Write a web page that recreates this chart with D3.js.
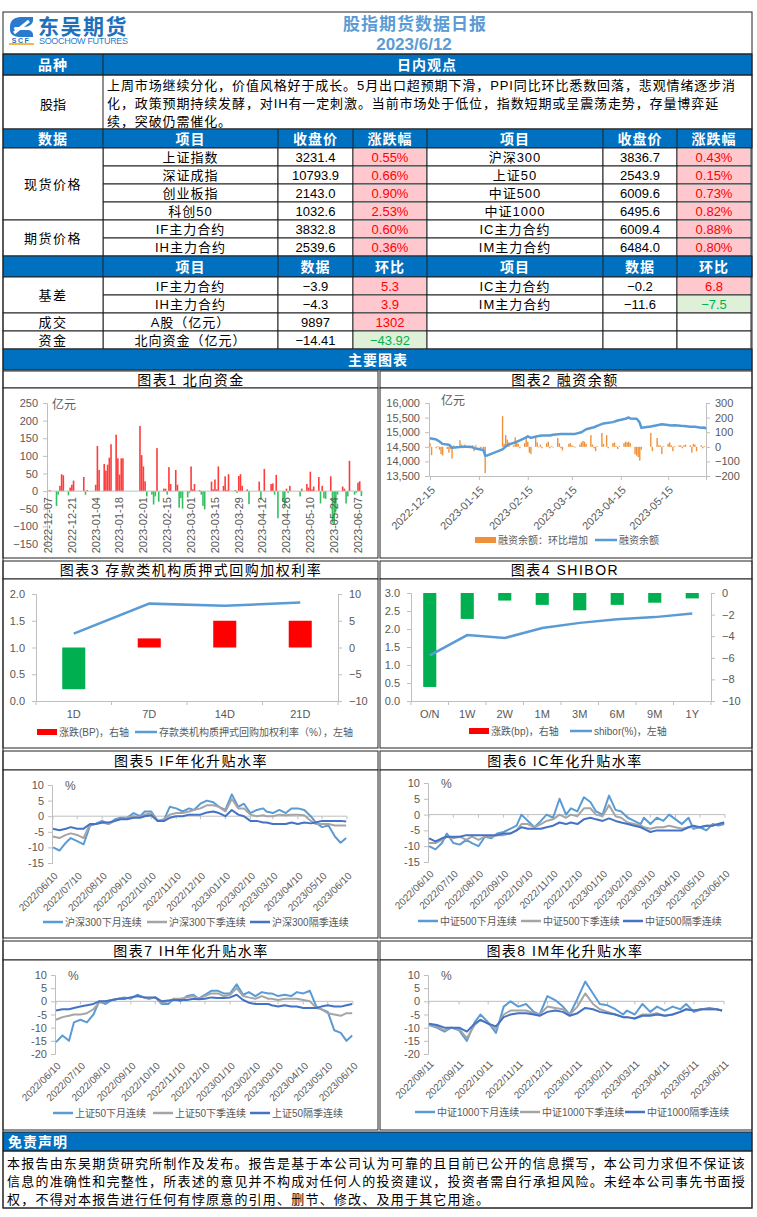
<!DOCTYPE html>
<html><head><meta charset="utf-8">
<script src="https://cdn.jsdelivr.net/npm/d3@7"></script>
<style>
body{margin:0;background:#fff;}
svg{display:block;font-family:"Liberation Sans",Arial,"Noto Sans CJK SC",sans-serif;}
</style></head><body>
<script>
// ---------------- DATA ----------------
const reportTitle = "股指期货数据日报";
const reportDate = "2023/6/12";
const viewLines = [
  "上周市场继续分化，价值风格好于成长。5月出口超预期下滑，PPI同比环比悉数回落，悲观情绪逐步消",
  "化，政策预期持续发酵，对IH有一定刺激。当前市场处于低位，指数短期或呈震荡走势，存量博弈延",
  "续，突破仍需催化。"
];
const spotNamesL = ["上证指数","深证成指","创业板指","科创50"];
const spotCloseL = [3231.4,10793.9,2143.0,1032.6];
const spotChgL = [0.55,0.66,0.90,2.53];
const spotNamesR = ["沪深300","上证50","中证500","中证1000"];
const spotCloseR = [3836.7,2543.9,6009.6,6495.6];
const spotChgR = [0.43,0.15,0.73,0.82];
const futNamesL = ["IF主力合约","IH主力合约"];
const futCloseL = [3832.8,2539.6];
const futChgL = [0.60,0.36];
const futNamesR = ["IC主力合约","IM主力合约"];
const futCloseR = [6009.4,6484.0];
const futChgR = [0.88,0.80];
const basisNamesL = ["IF主力合约","IH主力合约"];
const basisValL = [-3.9,-4.3];
const basisChgL = [5.3,3.9];
const basisNamesR = ["IC主力合约","IM主力合约"];
const basisValR = [-0.2,-11.6];
const basisChgR = [6.8,-7.5];
const turnoverVal = 9897, turnoverChg = 1302;
const northVal = -14.41, northChg = -43.92;
const disclaimer = [
  "本报告由东吴期货研究所制作及发布。报告是基于本公司认为可靠的且目前已公开的信息撰写，本公司力求但不保证该",
  "信息的准确性和完整性，所表述的意见并不构成对任何人的投资建议，投资者需自行承担风险。未经本公司事先书面授",
  "权，不得对本报告进行任何有悖原意的引用、删节、修改、及用于其它用途。"
];

// Chart 1 北向资金
const nfDates = ["2022-12-08","2022-12-12","2022-12-13","2022-12-14","2022-12-15","2022-12-16","2022-12-19","2022-12-20","2022-12-21","2022-12-22","2022-12-28","2022-12-29","2022-12-30","2023-01-04","2023-01-05","2023-01-06","2023-01-09","2023-01-10","2023-01-11","2023-01-12","2023-01-13","2023-01-16","2023-01-17","2023-01-18","2023-01-19","2023-01-20","2023-01-30","2023-01-31","2023-02-01","2023-02-02","2023-02-03","2023-02-06","2023-02-07","2023-02-08","2023-02-09","2023-02-10","2023-02-13","2023-02-14","2023-02-15","2023-02-16","2023-02-17","2023-02-20","2023-02-21","2023-02-22","2023-02-23","2023-02-24","2023-02-27","2023-02-28","2023-03-01","2023-03-02","2023-03-03","2023-03-06","2023-03-07","2023-03-08","2023-03-09","2023-03-13","2023-03-14","2023-03-15","2023-03-16","2023-03-17","2023-03-20","2023-03-21","2023-03-22","2023-03-23","2023-03-27","2023-03-28","2023-03-29","2023-03-30","2023-03-31","2023-04-03","2023-04-04","2023-04-10","2023-04-11","2023-04-13","2023-04-17","2023-04-18","2023-04-19","2023-04-20","2023-04-21","2023-04-24","2023-04-25","2023-04-26","2023-04-27","2023-04-28","2023-05-04","2023-05-05","2023-05-08","2023-05-09","2023-05-10","2023-05-11","2023-05-12","2023-05-15","2023-05-16","2023-05-17","2023-05-18","2023-05-19","2023-05-22","2023-05-23","2023-05-24","2023-05-25","2023-05-26","2023-05-29","2023-05-30","2023-05-31","2023-06-01","2023-06-02","2023-06-05","2023-06-06","2023-06-07","2023-06-08","2023-06-09"];
const nfValues = [3,-42,-10,15,48,45,-12,10,18,30,40,-10,3,18,128,60,77,58,75,95,133,160,93,47,93,93,185,102,70,28,-15,-10,-38,-15,122,-30,7,7,-10,68,20,60,18,-47,-20,-50,-18,-5,70,5,20,3,-10,-42,-52,27,5,33,5,70,15,42,3,48,3,-5,43,48,15,5,-37,27,-25,63,20,22,-10,46,-77,-30,-48,7,-5,15,-15,7,20,10,55,5,13,40,-35,15,-20,-22,42,-90,-95,-55,-10,13,7,-35,-15,86,-10,-5,24,28,-14];
const nfTickDates = ["2022-12-07","2022-12-21","2023-01-04","2023-01-18","2023-02-01","2023-02-15","2023-03-01","2023-03-15","2023-03-29","2023-04-12","2023-04-26","2023-05-10","2023-05-24","2023-06-07"];
const nfYTicks = [-150,-100,-50,0,50,100,150,200,250];

// Chart 2 融资余额
const mbDates = ["2022-12-15","2022-12-19","2022-12-21","2022-12-23","2022-12-27","2022-12-29","2023-01-03","2023-01-05","2023-01-09","2023-01-11","2023-01-13","2023-01-17","2023-01-18","2023-01-19","2023-01-20","2023-01-30","2023-02-01","2023-02-03","2023-02-07","2023-02-10","2023-02-14","2023-02-15","2023-02-17","2023-02-21","2023-02-24","2023-03-01","2023-03-03","2023-03-08","2023-03-13","2023-03-17","2023-03-21","2023-03-24","2023-03-29","2023-03-31","2023-04-04","2023-04-10","2023-04-13","2023-04-18","2023-04-20","2023-04-21","2023-04-25","2023-04-26","2023-04-27","2023-04-28","2023-05-04","2023-05-08","2023-05-11","2023-05-15","2023-05-17","2023-05-19","2023-05-23","2023-05-25","2023-05-29","2023-06-01","2023-06-05","2023-06-07","2023-06-08"];
const mbBalance = [14790,14750,14680,14600,14570,14470,14490,14506,14500,14483,14440,14402,14368,14195,14200,14410,14510,14580,14650,14720,14820,14860,14805,14862,14885,14885,14910,14935,14942,14942,15000,15100,15170,15215,15300,15345,15400,15460,15506,15470,15460,15400,15322,15150,15195,15240,15270,15250,15230,15240,15218,15210,15184,15184,15150,15161,15115];
const mcDates = ["2022-12-15","2022-12-16","2022-12-19","2022-12-20","2022-12-21","2022-12-22","2022-12-23","2022-12-26","2022-12-27","2022-12-28","2022-12-29","2022-12-30","2023-01-03","2023-01-04","2023-01-05","2023-01-06","2023-01-09","2023-01-11","2023-01-12","2023-01-13","2023-01-16","2023-01-17","2023-01-18","2023-01-19","2023-01-30","2023-01-31","2023-02-01","2023-02-02","2023-02-03","2023-02-06","2023-02-07","2023-02-08","2023-02-09","2023-02-10","2023-02-13","2023-02-14","2023-02-15","2023-02-16","2023-02-17","2023-02-20","2023-02-21","2023-02-22","2023-02-23","2023-02-24","2023-02-27","2023-02-28","2023-03-01","2023-03-02","2023-03-03","2023-03-06","2023-03-07","2023-03-08","2023-03-09","2023-03-13","2023-03-14","2023-03-15","2023-03-16","2023-03-17","2023-03-20","2023-03-21","2023-03-22","2023-03-23","2023-03-24","2023-03-27","2023-03-28","2023-03-29","2023-03-30","2023-03-31","2023-04-03","2023-04-04","2023-04-06","2023-04-07","2023-04-10","2023-04-11","2023-04-12","2023-04-13","2023-04-14","2023-04-17","2023-04-18","2023-04-19","2023-04-20","2023-04-21","2023-04-24","2023-04-25","2023-04-26","2023-04-27","2023-04-28","2023-05-04","2023-05-05","2023-05-08","2023-05-09","2023-05-10","2023-05-11","2023-05-12","2023-05-15","2023-05-16","2023-05-17","2023-05-18","2023-05-19","2023-05-22","2023-05-23","2023-05-24","2023-05-25","2023-05-26","2023-05-29","2023-05-30","2023-05-31","2023-06-01","2023-06-02","2023-06-05","2023-06-06","2023-06-07"];
const mcChange = [25,-57,-10,5,-20,-50,-60,-15,-40,-15,-80,10,45,15,-10,15,-10,10,-30,10,-10,-5,-20,-180,210,20,80,50,30,10,65,35,20,-10,25,60,35,-40,-50,60,30,-5,15,-10,25,35,-10,5,-5,60,25,-10,-25,20,25,10,5,-5,15,30,40,35,20,80,15,-10,-30,5,95,20,80,-10,25,30,5,-15,5,25,35,30,35,25,-50,-60,-70,-95,-20,95,-30,60,10,10,-50,5,20,30,10,-30,5,10,10,-10,10,15,10,-40,20,15,-30,10,-10,5];
const mbTickDates = ["2022-12-15","2023-01-15","2023-02-15","2023-03-15","2023-04-15","2023-05-15"];
const mbLeftTicks = [13500,14000,14500,15000,15500,16000];
const mbRightTicks = [-200,-100,0,100,200,300];

// Chart 3 存款类机构质押式回购加权利率
const repoCats = ["1D","7D","14D","21D"];
const repoRate = [1.26,1.82,1.78,1.84];
const repoChg = [-7.8,1.7,5.0,5.0];

// Chart 4 SHIBOR
const shiborCats = ["O/N","1W","2W","1M","3M","6M","9M","1Y"];
const shiborRate = [1.27,1.83,1.75,2.03,2.17,2.27,2.33,2.43];
const shiborChg = [-8.7,-2.4,-0.7,-1.1,-1.6,-1.1,-0.9,-0.5];

// Charts 5-7 升贴水率
const bDates = ["2022-06-10","2022-06-18","2022-06-26","2022-07-02","2022-07-10","2022-07-18","2022-07-26","2022-08-02","2022-08-10","2022-08-18","2022-08-26","2022-09-02","2022-09-10","2022-09-18","2022-09-26","2022-10-02","2022-10-10","2022-10-18","2022-10-26","2022-11-02","2022-11-10","2022-11-18","2022-11-26","2022-12-02","2022-12-10","2022-12-18","2022-12-26","2023-01-02","2023-01-10","2023-01-18","2023-01-26","2023-02-02","2023-02-10","2023-02-18","2023-02-26","2023-03-02","2023-03-10","2023-03-18","2023-03-26","2023-04-02","2023-04-10","2023-04-18","2023-04-26","2023-05-02","2023-05-10","2023-05-18","2023-05-26","2023-06-02","2023-06-09"];
const bTicks = ["2022-06-10","2022-07-10","2022-08-10","2022-09-10","2022-10-10","2022-11-10","2022-12-10","2023-01-10","2023-02-10","2023-03-10","2023-04-10","2023-05-10","2023-06-10"];
const ifNext = [-10,-11,-8.5,-7,-8,-9,-3,-2.5,-1.5,-2.5,-1,-0.5,-0.5,1,0,1.5,1.5,-1.5,-1,3,2.5,1.5,2.5,2,4,5,4.5,3,2,7,3,4,1,2,2.5,1.5,1,2,1,2.5,2.5,2,0,-2,-3.5,-3,-6.5,-8.5,-7];
const ifSeason = [-6.5,-7,-6,-5.5,-6,-7,-2.5,-2.5,-2,-2.5,-1.5,-0.8,-0.5,0,-0.3,0.5,1,-1.5,-1,0.5,1,1,1.5,2,2.5,3.5,3.5,3,1.5,5.5,2.5,2.5,0.5,0,0.3,0,0,0.5,0.3,0.5,0.5,0.3,-1.5,-2.5,-2.5,-2.5,-3,-3,-3];
const ifFar = [-4,-4.5,-4,-3.5,-4,-4,-2.5,-2.5,-2,-2,-1.5,-1,-1,-0.5,-0.5,0,0.3,-1.5,-1.5,-0.5,0,0,0.5,0.5,0.5,1.2,1.5,1,0,2,0.5,0,-1.5,-1.5,-2,-2,-2.5,-2.5,-2.5,-2,-2.5,-2,-2.3,-2,-1.5,-1.5,-1.5,-1.5,-1.7];
const icNext = [-10,-11,-9,-6,-9,-9.5,-8,-9,-10,-7,-7.5,-6,-5.5,-4.5,-3.5,0,-2,-4,-2,0,-1,5,0,2,1,5.5,4,1,0,6,1.5,1,-1,-2,-3,-1,-3,-1,-2,0,-1.5,-3,-1,-4.5,-4,-5,-3,-3.5,-3];
const icSeason = [-9,-9,-8,-7,-7.5,-7,-8,-7,-8,-7,-7,-6.5,-6.5,-6,-5,-3,-3,-4,-3,-2,-1.5,0,-1,0,-0.5,2,2,0,-0.5,3,-0.5,-1,-2.5,-3,-3.5,-4,-4.5,-4,-4,-3.5,-4,-4.5,-4,-4,-4,-3.5,-3.5,-3,-2.5];
const icFar = [-7.5,-8.5,-7.5,-7,-7,-7,-6.5,-6.5,-6.5,-6.5,-6.5,-6.5,-6,-6,-5,-4,-4.5,-4.5,-4.5,-4,-3.5,-2.5,-3,-2.5,-3,-1.5,-1,-1.5,-2,-1.2,-2,-2.5,-3,-3.5,-4,-4.5,-5.5,-5,-5,-5,-5,-5,-4,-3.5,-4,-3.5,-3.5,-3,-2.5];
const ihNext = [-15.5,-13,-15,-8,-7,-8,-5,0,-1,0.5,1,1.5,1,2.5,1.5,1,1.5,-1,-1,1,0,2,2.5,1,2.5,4,4,3,3,6.5,2.5,3.5,2,3.5,3,3,2,2.5,2,3.5,3,4,-2,-3,-4,-11,-12,-15,-13];
const ihSeason = [-7,-6,-5.5,-5,-5,-4.5,-3,-0.5,0,0.5,1,1,1.5,2,1.5,1,1.5,-0.5,0,1,1,1.5,2,1,2,3,3,2,2.5,5,2,1.5,1,2,1,1,0.5,1,1,1,0.5,0,-2.5,-3,-4.5,-5,-5.5,-4.5,-4.5];
const ihFar = [-3.5,-3,-3,-2.5,-2,-1.5,-1,0,0,0.5,1,1,1.5,2,1.5,1.5,1.5,0,0.3,0.5,0.5,0.5,1,0.8,1,1.5,1.3,1.3,1.5,2.5,0.5,-0.5,-1,-1,-1,-1.5,-2,-1.5,-2,-2,-2.5,-2.5,-2.5,-2,-1.5,-2,-2,-1.5,-1];
// Chart 8
const imDates = ["2022-08-11","2022-08-19","2022-08-27","2022-09-03","2022-09-11","2022-09-19","2022-09-27","2022-10-03","2022-10-11","2022-10-19","2022-10-27","2022-11-03","2022-11-11","2022-11-19","2022-11-27","2022-12-03","2022-12-11","2022-12-19","2022-12-27","2023-01-03","2023-01-11","2023-01-19","2023-01-27","2023-02-03","2023-02-11","2023-02-19","2023-02-27","2023-03-03","2023-03-11","2023-03-19","2023-03-27","2023-04-03","2023-04-11","2023-04-19","2023-04-27","2023-05-03","2023-05-11","2023-05-19","2023-05-27","2023-06-03","2023-06-09"];
const imTicks = ["2022-08-11","2022-09-11","2022-10-11","2022-11-11","2022-12-11","2023-01-11","2023-02-11","2023-03-11","2023-04-11","2023-05-11","2023-06-11"];
const imNext = [-9,-10,-11.5,-10,-11,-15,-8,-5,-8,-12,-2,0,-2,-1,-4,-5,2,0.5,-2,-5,1,7.5,3,-1,-1.5,-3,-5,-3.5,-5,-1,-4,-2,-3.5,-2,-3,-1,-4,-3,-2.5,-3,-3.5];
const imSeason = [-9,-9.5,-11,-10,-10.5,-14,-9,-7,-8.5,-10.5,-5,-3.5,-3.5,-3.5,-4.5,-5,-2,-2.5,-3,-5,-2,3,-1,-3,-4,-5,-6,-6,-6.5,-5,-5,-4.5,-5.5,-5,-4,-3,-3.5,-3,-3,-3,-3.5];
const imFar = [-8.5,-9,-10,-10,-10,-11.5,-8.5,-7,-8.5,-9.5,-6,-5,-4.5,-4.5,-5,-5.5,-4,-3.5,-4,-5.5,-4.5,-2.5,-3,-4,-4.5,-5,-6,-6,-6.5,-5.5,-5.5,-5,-5.5,-5,-4,-3,-3.5,-3,-3,-3,-3.5];

// ---------------- DRAW ----------------
const W=757,H=1217,L=3,R=752,MID=379;
const FONT='"Liberation Sans",Arial,"Noto Sans CJK SC",sans-serif';
const GRAY="#595959",AX="#bfbfbf",BLUE="#0070c0";
const C_LB="#5b9bd5",C_GR="#a5a5a5",C_DB="#4472c4";
const parse=d3.timeParse("%Y-%m-%d");
const svg=d3.select("body").append("svg").attr("width",W).attr("height",H);
svg.append("rect").attr("width",W).attr("height",H).attr("fill","#fff");

function rect(x,y,w,h,fill,stroke){return svg.append("rect").attr("x",x).attr("y",y).attr("width",w).attr("height",h).attr("fill",fill||"none").attr("stroke",stroke||"none");}
function txt(x,y,s,o={}){return svg.append("text").attr("x",x).attr("y",y).text(s)
  .attr("font-size",o.fs||13).attr("fill",o.fill||"#000").attr("text-anchor",o.anchor||"middle")
  .attr("font-weight",o.fw||"normal").attr("dominant-baseline","central").attr("letter-spacing",o.ls||0);}
function styleAxis(g,fs){g.attr("font-family",FONT);g.select(".domain").attr("stroke",AX);
  g.selectAll(".tick line").attr("stroke",AX);g.selectAll(".tick text").attr("fill",GRAY).attr("font-size",fs);}
function justify(lines,x,ys,width,fs){
  const nodes=lines.map((s,i)=>txt(x,ys[i],s,{fs:fs,anchor:"start"}));
  const w=nodes[0].node().getComputedTextLength();
  const ls=(width-w)/[...lines[0]].length;
  nodes.forEach(t=>t.attr("letter-spacing",ls));
}
function legLine(x,y,c,label,len){svg.append("line").attr("x1",x).attr("x2",x+len).attr("y1",y).attr("y2",y).attr("stroke",c).attr("stroke-width",2.5);
  txt(x+len+2,y,label,{fs:10,anchor:"start",fill:GRAY});}
function legRect(x,y,c,label,len){rect(x,y-3,len,6,c);txt(x+len+2,y,label,{fs:10,anchor:"start",fill:GRAY});}

// ---- header / logo
svg.append("path").attr("d","M10,27 C10,19 16,17 22,17 L33,17 L33,20 C33,24 29,27 24,27 L16,27 C14,27 13,29 15,30 L27,30 C31,30 33,32 33,35 L33,37 L20,37 C14,37 10,34 10,30 Z").attr("fill","#2a7bd0");
svg.append("path").attr("d","M14,33 L29,21").attr("stroke","#fff").attr("stroke-width",3);
txt(21,40.5,"SCF",{fs:7,fw:"bold",fill:"#1f6fba",ls:1.5});
svg.append("line").attr("x1",9).attr("x2",34).attr("y1",44).attr("y2",44).attr("stroke","#f39c12").attr("stroke-width",1.5);
txt(38,26,"东吴期货",{fs:21,fw:"bold",fill:"#1f6fba",anchor:"start",ls:1.5});
txt(39,40.5,"SOOCHOW FUTURES",{fs:9,fill:"#2a7bd0",anchor:"start"}).attr("textLength",89);
txt(415,24,reportTitle,{fs:17,fw:"bold",fill:"#5b9bd5",ls:1});
txt(414,44,reportDate,{fs:17,fw:"bold",fill:"#5b9bd5"});

// ---- table
const cols=[3,103,278,353,427,603,677,751];
const cx=i=>(cols[i]+cols[i+1])/2;
function band(y0,y1,labels){rect(L,y0,R-L,y1-y0,BLUE,"#222");
  labels.forEach((s,i)=>{ if(s!==null){ if(i>0) svg.append("line").attr("x1",cols[i]).attr("x2",cols[i]).attr("y1",y0).attr("y2",y1).attr("stroke","#222");
    if(s) txt(cx(i),(y0+y1)/2,s,{fs:14,fw:"bold",fill:"#fff",ls:1}); }});}
rect(L,54,R-L,21,BLUE,"#222");
svg.append("line").attr("x1",103).attr("x2",103).attr("y1",54).attr("y2",129).attr("stroke","#222");
txt(53,64.5,"品种",{fs:14,fw:"bold",fill:"#fff",ls:1});
txt(427,64.5,"日内观点",{fs:14,fw:"bold",fill:"#fff",ls:1});
rect(L,75,R-L,54,"none","#222");
txt(53,104,"股指",{fs:13});
justify(viewLines,107,[85.5,103.5,121],629,13);

band(129,148,["数据","项目","收盘价","涨跌幅","项目","收盘价","涨跌幅"]);
const fmt1=d3.format(".1f"),fmt2=d3.format(".2f");
function cellBox(x0,x1,y0,y1,fill){rect(x0,y0,x1-x0,y1-y0,fill||"#fff","#222");}
function chgCell(ci,y0,y1,v,label){
  cellBox(cols[ci],cols[ci+1],y0,y1);
  rect(cols[ci]+1,y0+1,cols[ci+1]-cols[ci]-2,y1-y0-2,v>=0?"#ffc7ce":"#dff0d8");
  txt(cx(ci),(y0+y1)/2+0.5,label,{fs:13,fill:v>=0?"#ff0000":"#00b050"});
}
function dataRow(y0,nL,vL,cL,nR,vR,cR,fmtC,fmtV){
  const y1=y0+18,ym=y0+9.5;
  cellBox(cols[1],cols[2],y0,y1); txt(cx(1),ym,nL,{ls:1});
  cellBox(cols[2],cols[3],y0,y1); txt(cx(2),ym,fmtV(vL));
  chgCell(3,y0,y1,cL,fmtC(cL));
  cellBox(cols[4],cols[5],y0,y1); if(nR) txt(cx(4),ym,nR,{ls:1});
  cellBox(cols[5],cols[6],y0,y1); if(vR!==null) txt(cx(5),ym,fmtV(vR));
  if(cR!==null) chgCell(6,y0,y1,cR,fmtC(cR)); else cellBox(cols[6],cols[7],y0,y1);
}
const pct=v=>fmt2(v)+"%";
spotNamesL.forEach((n,i)=>dataRow(148+18*i,n,spotCloseL[i],spotChgL[i],spotNamesR[i],spotCloseR[i],spotChgR[i],pct,fmt1));
futNamesL.forEach((n,i)=>dataRow(220+18*i,n,futCloseL[i],futChgL[i],futNamesR[i],futCloseR[i],futChgR[i],pct,fmt1));
cellBox(cols[0],cols[1],148,220); txt(53,184,"现货价格",{ls:1.5});
cellBox(cols[0],cols[1],220,256); txt(53,238,"期货价格",{ls:1.5});
band(256,277,["","项目","数据","环比","项目","数据","环比"]);
basisNamesL.forEach((n,i)=>dataRow(277+18*i,n,basisValL[i],basisChgL[i],basisNamesR[i],basisValR[i],basisChgR[i],fmt1,fmt1));
dataRow(313,"A股（亿元）",turnoverVal,turnoverChg,"",null,null,d3.format("d"),d3.format("d"));
dataRow(331,"北向资金（亿元）",northVal,northChg,"",null,null,fmt2,fmt2);
cellBox(cols[0],cols[1],277,313); txt(53,295,"基差",{ls:1.5});
cellBox(cols[0],cols[1],313,331); txt(53,322.5,"成交",{ls:1.5});
cellBox(cols[0],cols[1],331,349); txt(53,340.5,"资金",{ls:1.5});
rect(L,349,R-L,21,BLUE,"#222");
txt(378,359.5,"主要图表",{fs:14,fw:"bold",fill:"#fff",ls:1});

// ---- chart frames
const panels=[[371,388,558,"图表1  北向资金","图表2  融资余额"],[561,579,748,"图表3  存款类机构质押式回购加权利率","图表4  SHIBOR"],
  [751,770,938,"图表5  IF年化升贴水率","图表6  IC年化升贴水率"],[941,960,1130,"图表7  IH年化升贴水率","图表8  IM年化升贴水率"]];
panels.forEach(p=>{
  rect(L,p[0],MID-1-L,p[1]-p[0],"#fff","#222"); rect(MID+1,p[0],R-MID-1,p[1]-p[0],"#fff","#222");
  rect(L,p[1],MID-1-L,p[2]-p[1],"#fff","#222"); rect(MID+1,p[1],R-MID-1,p[2]-p[1],"#fff","#222");
  txt(191,(p[0]+p[1])/2,p[3],{fs:14,ls:1.5}); txt(565,(p[0]+p[1])/2,p[4],{fs:14,ls:1.5});
});

// ---- Chart 1
{
  const x=d3.scaleTime().domain([parse("2022-12-07"),parse("2023-06-07")]).range([48,358]);
  const y=d3.scaleLinear().domain([-150,250]).range([544,403]);
  const ya=svg.append("g").attr("transform","translate(47,0)").call(d3.axisLeft(y).tickValues(nfYTicks).tickSize(4).tickPadding(5));
  styleAxis(ya,11);
  svg.append("g").selectAll("rect").data(nfDates).join("rect")
    .attr("x",d=>x(parse(d))-0.8).attr("width",1.6)
    .attr("y",(d,i)=>y(Math.max(0,nfValues[i]))).attr("height",(d,i)=>Math.abs(y(nfValues[i])-y(0)))
    .attr("fill",(d,i)=>nfValues[i]>=0?"#ff3b3b":"#34c060");
  svg.append("line").attr("x1",47).attr("x2",363).attr("y1",y(0)).attr("y2",y(0)).attr("stroke",AX);
  svg.append("g").selectAll("text").data(nfTickDates).join("text")
    .attr("transform",d=>`translate(${x(parse(d))},497) rotate(-90)`).attr("text-anchor","end").attr("dy","0.35em")
    .attr("font-size",11).attr("fill",GRAY).text(d=>d);
  txt(52,405,"亿元",{fs:12,anchor:"start",fill:GRAY});
}
// ---- Chart 2
{
  const x=d3.scaleTime().domain([parse("2022-12-15"),parse("2023-06-08")]).range([430,706]);
  const yL=d3.scaleLinear().domain([13500,16000]).range([476,403]);
  const yR=d3.scaleLinear().domain([-200,300]).range([476,403]);
  styleAxis(svg.append("g").attr("transform","translate(429,0)").call(d3.axisLeft(yL).tickValues(mbLeftTicks).tickFormat(d3.format(",")).tickSize(4).tickPadding(5)),11);
  styleAxis(svg.append("g").attr("transform","translate(706,0)").call(d3.axisRight(yR).tickValues(mbRightTicks).tickSize(4).tickPadding(5)),11);
  const xa=svg.append("g").attr("transform","translate(0,476)").call(d3.axisBottom(x).tickValues(mbTickDates.map(parse)).tickSize(4).tickFormat(""));
  styleAxis(xa,11);
  svg.append("g").selectAll("rect").data(mcDates).join("rect")
    .attr("x",d=>x(parse(d))-0.7).attr("width",1.4)
    .attr("y",(d,i)=>yR(Math.max(0,mcChange[i]))).attr("height",(d,i)=>Math.abs(yR(mcChange[i])-yR(0)))
    .attr("fill","#f0913a");
  svg.append("path").datum(mbBalance).attr("fill","none").attr("stroke",C_LB).attr("stroke-width",2.5).attr("stroke-linejoin","round")
    .attr("d",d3.line().x((v,i)=>x(parse(mbDates[i]))).y(v=>yL(v)));
  svg.append("g").selectAll("text").data(mbTickDates).join("text")
    .attr("transform",d=>`translate(${x(parse(d))+3},488) rotate(-45)`).attr("text-anchor","end").attr("dy","0.35em")
    .attr("font-size",11).attr("fill",GRAY).text(d=>d);
  txt(441,401,"亿元",{fs:12,anchor:"start",fill:GRAY});
  legRect(475,540,"#f0913a","融资余额：环比增加",21);
  legLine(595,540,C_LB,"融资余额",22);
}
// ---- Chart 3 / 4 (bar + line)
function barLine(o){
  const x=d3.scaleBand().domain(o.cats).range(o.xr);
  const bw=x.bandwidth();
  const yL=d3.scaleLinear().domain(o.yLd).range(o.yr);
  const yR=d3.scaleLinear().domain(o.yRd).range(o.yr);
  styleAxis(svg.append("g").attr("transform",`translate(${o.xr[0]},0)`).call(d3.axisLeft(yL).tickValues(o.yLt).tickFormat(d3.format(".1f")).tickSize(4).tickPadding(7)),11);
  styleAxis(svg.append("g").attr("transform",`translate(${o.xr[1]},0)`).call(d3.axisRight(yR).tickValues(o.yRt).tickSize(4).tickPadding(7)),11);
  const xa=svg.append("g").attr("transform",`translate(0,${o.yr[0]})`).call(d3.axisBottom(x).tickSize(0).tickPadding(9));
  styleAxis(xa,11);
  svg.append("g").selectAll("line").data(o.cats.map(c=>x(c)).concat([o.xr[1]])).join("line")
    .attr("x1",d=>d).attr("x2",d=>d).attr("y1",o.yr[0]).attr("y2",o.yr[0]+4).attr("stroke",AX);
  const w=bw*o.bf;
  svg.append("g").selectAll("rect").data(o.chg).join("rect")
    .attr("x",(v,i)=>x(o.cats[i])+bw/2-w/2).attr("width",w)
    .attr("y",v=>yR(Math.max(0,v))).attr("height",v=>Math.abs(yR(v)-yR(0)))
    .attr("fill",v=>v<0?"#00b050":"#ff0000");
  svg.append("path").datum(o.rate).attr("fill","none").attr("stroke",C_LB).attr("stroke-width",2.5)
    .attr("d",d3.line().x((v,i)=>x(o.cats[i])+bw/2).y(v=>yL(v)));
}
barLine({cats:repoCats,rate:repoRate,chg:repoChg,xr:[36,338],yr:[701,594],yLd:[0,2],yRd:[-10,10],yLt:[0,0.5,1,1.5,2],yRt:[-10,-5,0,5,10],bf:0.305});
legRect(37,732,"#ff0000","涨跌(BP)，右轴",20);
legLine(135,732,C_LB,"存款类机构质押式回购加权利率（%），左轴",22);
barLine({cats:shiborCats,rate:shiborRate,chg:shiborChg,xr:[411,711],yr:[701,593],yLd:[0,3],yRd:[-10,0],yLt:[0,0.5,1,1.5,2,2.5,3],yRt:[-10,-8,-6,-4,-2,0],bf:0.35});
legRect(469,731,"#ff0000","涨跌(bp)，右轴",20);
legLine(570,731,C_LB,"shibor(%)，左轴",22);

// ---- Charts 5-8
function basisChart(o){
  const x=d3.scaleTime().domain([parse(o.ticks[0]),parse(o.ticks[o.ticks.length-1])]).range(o.xr);
  const y=d3.scaleLinear().domain(o.yd).range(o.yr);
  styleAxis(svg.append("g").attr("transform",`translate(${o.xr[0]-1},0)`).call(d3.axisLeft(y).tickValues(o.yt).tickFormat(d=>String(d)).tickSize(4).tickPadding(4)),11);
  svg.append("line").attr("x1",o.xr[0]-1).attr("x2",o.xr[1]).attr("y1",y(0)).attr("y2",y(0)).attr("stroke",AX);
  const tk=o.ticks.map(parse);
  svg.append("g").selectAll("line").data(tk).join("line").attr("x1",d=>x(d)).attr("x2",d=>x(d)).attr("y1",y(0)).attr("y2",y(0)+3).attr("stroke",AX);
  svg.append("g").selectAll("text").data(tk).join("text")
    .attr("transform",d=>`translate(${x(d)+3},${o.ly}) rotate(-45)`).attr("text-anchor","end").attr("dy","0.35em")
    .attr("font-size",10).attr("fill",GRAY).text(d=>d3.timeFormat("%Y/%m/%d")(d));
  const ds=o.dates.map(parse);
  o.series.forEach(s=>svg.append("path").datum(s.v).attr("fill","none").attr("stroke",s.c).attr("stroke-width",2).attr("stroke-linejoin","round")
    .attr("d",d3.line().x((v,i)=>x(ds[i])).y(v=>y(v))));
  txt(o.xr[0]+12,o.yr[1]+1,"%",{fs:12,anchor:"start",fill:GRAY});
  o.series.forEach((s,i)=>legLine(o.lx[i],o.legY,s.c,s.n,20));
}
basisChart({dates:bDates,ticks:bTicks,xr:[53,347],yd:[-15,10],yr:[863,785],yt:[-15,-10,-5,0,5,10],ly:874,legY:922,lx:[43,147,250],
  series:[{v:ifNext,c:C_LB,n:"沪深300下月连续"},{v:ifSeason,c:C_GR,n:"沪深300下季连续"},{v:ifFar,c:C_DB,n:"沪深300隔季连续"}]});
basisChart({dates:bDates,ticks:bTicks,xr:[429,725],yd:[-15,10],yr:[862,783],yt:[-15,-10,-5,0,5,10],ly:872,legY:921,lx:[418,521,623],
  series:[{v:icNext,c:C_LB,n:"中证500下月连续"},{v:icSeason,c:C_GR,n:"中证500下季连续"},{v:icFar,c:C_DB,n:"中证500隔季连续"}]});
basisChart({dates:bDates,ticks:bTicks,xr:[56,353],yd:[-20,10],yr:[1054,975],yt:[-20,-15,-10,-5,0,5,10],ly:1064,legY:1113,lx:[53,153,250],
  series:[{v:ihNext,c:C_LB,n:"上证50下月连续"},{v:ihSeason,c:C_GR,n:"上证50下季连续"},{v:ihFar,c:C_DB,n:"上证50隔季连续"}]});
basisChart({dates:imDates,ticks:imTicks,xr:[429,724],yd:[-20,10],yr:[1054,975],yt:[-20,-15,-10,-5,0,5,10],ly:1062,legY:1112,lx:[415,520,625],
  series:[{v:imNext,c:C_LB,n:"中证1000下月连续"},{v:imSeason,c:C_GR,n:"中证1000下季连续"},{v:imFar,c:C_DB,n:"中证1000隔季连续"}]});

// ---- disclaimer
rect(L,1132,R-L,19,BLUE,"#222");
txt(8,1141.5,"免责声明",{fs:14,fw:"bold",fill:"#fff",anchor:"start",ls:1});
rect(L,1151,R-L,57,"none","#222");
justify(disclaimer,7,[1163,1181,1199],739,13);
// outer border
rect(L,12,R-L,1196,"none","#222");
svg.append("line").attr("x1",L).attr("x2",R).attr("y1",54).attr("y2",54).attr("stroke","#222");
</script></body></html>
